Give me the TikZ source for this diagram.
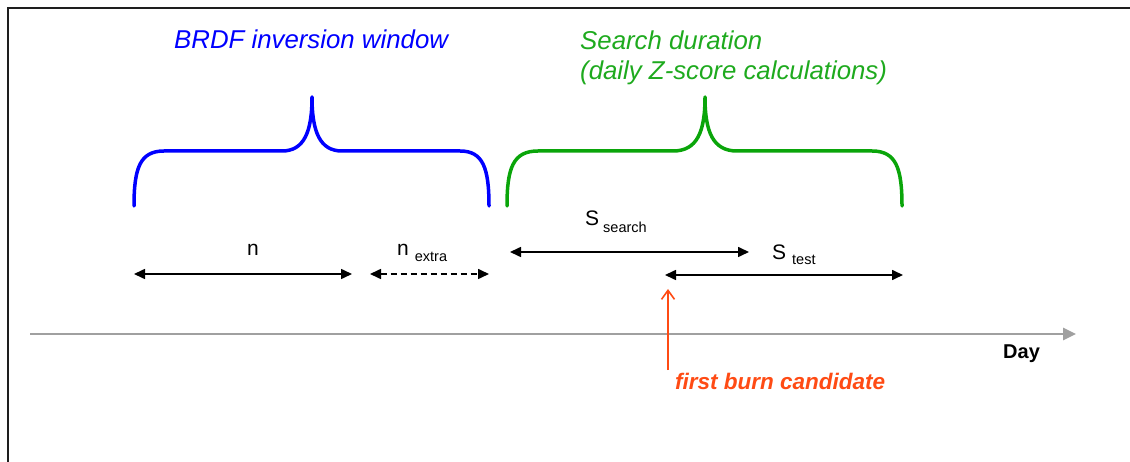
\documentclass[tikz,border=0pt]{standalone}
\usepackage{fontspec}
\setmainfont{Liberation Sans}
\usetikzlibrary{arrows.meta}
\definecolor{bracegreen}{RGB}{10,165,10}
\definecolor{textgreen}{RGB}{30,170,30}
\definecolor{burnorange}{RGB}{255,75,20}
\definecolor{axisgray}{RGB}{160,160,160}
\definecolor{framegray}{RGB}{30,30,30}
\newcommand{\fs}[1]{\fontsize{#1}{#1}\selectfont}
\tikzset{
  bracestyle/.style={line width=3.5pt, line cap=round, line join=round},
  span/.style={line width=1.6pt, {Triangle[length=11pt,width=10pt]}-{Triangle[length=11pt,width=10pt]}},
  dashspan/.style={span, dash pattern=on 6pt off 4pt},
  lbl/.style={inner sep=0pt, anchor=base west},
}
\begin{document}
\begin{tikzpicture}[x=1pt,y=-1pt]
\useasboundingbox (0,0) rectangle (1130,462);
% frame
\draw[framegray, line width=2pt] (8,462) -- (8,8) -- (1130,8);

% titles
\node[lbl, blue] (t1) at (174,49) {\fs{25.8}\itshape BRDF inversion window};
\node[lbl, textgreen, align=left] (t2a) at (580,50) {\fs{25.8}\itshape Search duration};
\node[lbl, textgreen] (t2b) at (580,80) {\fs{25.8}\itshape (daily Z-score calculations)};

% blue brace
\draw[blue, bracestyle] (134,206) .. controls (134,168) and (140,151) .. (164,151)
  -- (282,151) .. controls (304,151) and (312,132) .. (312,97)
  .. controls (312,132) and (320,151) .. (342,151)
  -- (460,151) .. controls (483,151) and (489,168) .. (489,206);
% green brace
\draw[bracegreen, bracestyle] (507,206) .. controls (507,168) and (513,151) .. (538,151)
  -- (673,151) .. controls (697,151) and (705,132) .. (705,97)
  .. controls (705,132) and (713,151) .. (737,151)
  -- (872,151) .. controls (896,151) and (902,168) .. (902,206);

% span arrows
\coordinate (n1) at (134,274);
\coordinate (n2) at (352,274);
\coordinate (e1) at (370,274);
\coordinate (e2) at (489,274);
\coordinate (s1) at (510,252);
\coordinate (s2) at (749,252);
\coordinate (r1) at (665,275);
\coordinate (r2) at (903,275);
\draw[span] (n1) -- (n2);
\draw[dashspan] (e1) -- (e2);
\draw[span] (s1) -- (s2);
\draw[span] (r1) -- (r2);

\node[lbl] (ln) at (247,256) {\fs{21}n};
\node[lbl] (lne) at (397,256) {\fs{21}n\hspace{6pt}\raisebox{-6pt}{\fs{14.5}extra}};
\node[lbl] (ls) at (585,226) {\fs{21}S\hspace{4pt}\raisebox{-7pt}{\fs{14.5}search}};
\node[lbl] (lt) at (772,260) {\fs{21}S\hspace{6pt}\raisebox{-5pt}{\fs{14.5}test}};

% day axis
\coordinate (a1) at (30,334);
\coordinate (a2) at (1076,334);
\draw[axisgray, line width=2.5pt, -{Triangle[length=13pt,width=12pt]}] (a1) -- (a2);
\node[lbl] (day) at (1003,359) {\fs{20}\bfseries Day};

% first burn candidate
\coordinate (b1) at (668,370);
\coordinate (b2) at (668,289);
\draw[burnorange, line width=1.6pt, -{Straight Barb[length=9pt,width=13pt,line width=1.6pt]}] (b1) -- (b2);
\node[lbl, burnorange] (burn) at (675,389) {\fs{22.5}\bfseries\itshape first burn candidate};
\end{tikzpicture}
\end{document}
